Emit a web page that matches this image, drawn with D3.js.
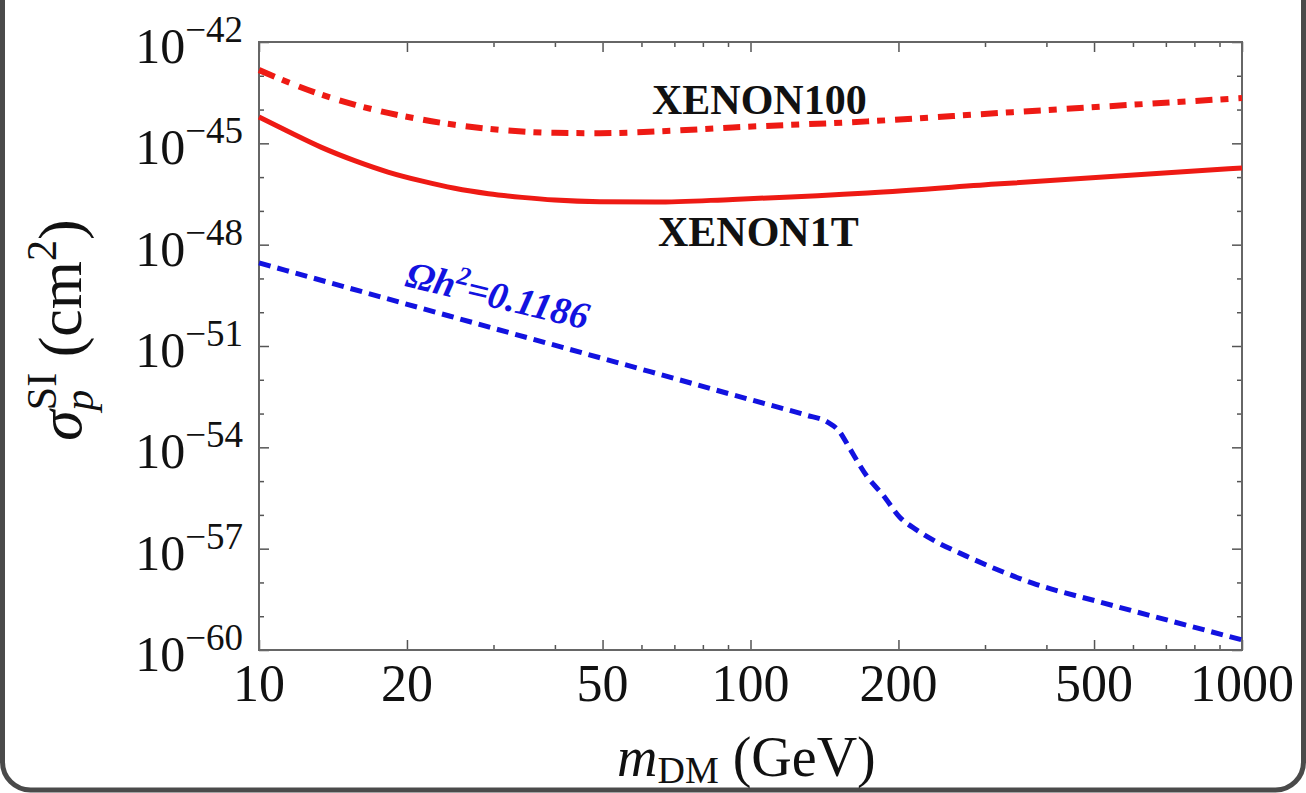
<!DOCTYPE html>
<html>
<head>
<meta charset="utf-8">
<script src="https://cdn.jsdelivr.net/npm/d3@7"></script>
<style>
  html, body { margin: 0; padding: 0; background: #fff; }
  svg { display: block; }
  .tick line { stroke: #555; stroke-width: 1.5; }
  .domain { display: none; }
</style>
</head>
<body>
<div id="chart"></div>
<script>
// dark-matter mass, GeV (x) and log10 of the SI cross-section (cm^2)
const xenon100Mass = [10, 11.5, 13.4, 15.7, 18.3, 21.5, 25, 29.3, 34.3, 40, 49.4, 64, 92, 173, 322, 1000];
const xenon100Log  = [-42.83, -43.20, -43.56, -43.86, -44.10, -44.30, -44.45, -44.57, -44.65, -44.69, -44.70, -44.65, -44.53, -44.35, -44.10, -43.66];

const xenon1tMass = [10, 11.5, 13.4, 15.7, 18.3, 21.5, 25, 29.3, 34.3, 40, 49.4, 64, 92, 173, 322, 1000];
const xenon1tLog  = [-44.22, -44.66, -45.12, -45.52, -45.85, -46.12, -46.33, -46.49, -46.60, -46.68, -46.73, -46.74, -46.66, -46.47, -46.20, -45.73];

const relicMass = [10, 24.5, 62.5, 100, 130, 143, 152, 159, 173, 186, 201, 218, 235, 275, 375, 514, 703, 1000];
const relicLog  = [-48.54, -50.12, -51.76, -52.59, -53.05, -53.24, -53.55, -54.02, -54.88, -55.41, -56.06, -56.45, -56.74, -57.22, -58.02, -58.58, -59.11, -59.70];

const xMajorTicks = [10, 20, 50, 100, 200, 500, 1000];
const xMinorTicks = [30, 40, 60, 70, 80, 90, 300, 400, 600, 700, 800, 900];
const yMajorExps = [-60, -57, -54, -51, -48, -45, -42];
const yMinorExps = [-59, -58, -56, -55, -53, -52, -50, -49, -47, -46, -44, -43];

const W = 1306, H = 793;
const plotL = 259, plotR = 1242, plotT = 42, plotB = 650;

const svg = d3.select('#chart').append('svg')
  .attr('width', W).attr('height', H);

// outer rounded border of the screenshot
svg.append('rect')
  .attr('x', 2.5).attr('y', -40)
  .attr('width', W - 5).attr('height', 830)
  .attr('rx', 28)
  .attr('fill', 'none')
  .attr('stroke', '#4a4a4a')
  .attr('stroke-width', 5);

const x = d3.scaleLog().domain([10, 1000]).range([plotL, plotR]);
const y = d3.scaleLog().domain([1e-60, 1e-42]).range([plotB, plotT]);

const pow10 = e => Math.pow(10, e);

// ticks, all drawn inward (Mathematica frame style)
function addAxis(axis, tx, ty) {
  svg.append('g').attr('transform', `translate(${tx},${ty})`).call(axis);
}
addAxis(d3.axisBottom(x).tickValues(xMajorTicks).tickSize(-10).tickFormat(''), 0, plotB);
addAxis(d3.axisBottom(x).tickValues(xMinorTicks).tickSize(-5).tickFormat(''), 0, plotB);
addAxis(d3.axisTop(x).tickValues(xMajorTicks).tickSize(-10).tickFormat(''), 0, plotT);
addAxis(d3.axisTop(x).tickValues(xMinorTicks).tickSize(-5).tickFormat(''), 0, plotT);
addAxis(d3.axisLeft(y).tickValues(yMajorExps.map(pow10)).tickSize(-10).tickFormat(''), plotL, 0);
addAxis(d3.axisLeft(y).tickValues(yMinorExps.map(pow10)).tickSize(-5).tickFormat(''), plotL, 0);
addAxis(d3.axisRight(y).tickValues(yMajorExps.map(pow10)).tickSize(-10).tickFormat(''), plotR, 0);
addAxis(d3.axisRight(y).tickValues(yMinorExps.map(pow10)).tickSize(-5).tickFormat(''), plotR, 0);

// frame
svg.append('rect')
  .attr('x', plotL).attr('y', plotT)
  .attr('width', plotR - plotL).attr('height', plotB - plotT)
  .attr('fill', 'none').attr('stroke', '#666').attr('stroke-width', 2);

const serif = '"Liberation Serif", "DejaVu Serif", serif';

// x tick labels
svg.append('g').selectAll('text')
  .data(xMajorTicks)
  .join('text')
  .attr('x', d => x(d))
  .attr('y', 701)
  .attr('text-anchor', 'middle')
  .attr('font-family', serif)
  .attr('font-size', 52)
  .attr('fill', '#111')
  .text(d => d);

// y tick labels: 10^-nn
const yl = svg.append('g').selectAll('text')
  .data(yMajorExps)
  .join('text')
  .attr('x', 243)
  .attr('y', d => y(pow10(d)) + 21)
  .attr('text-anchor', 'end')
  .attr('font-family', serif)
  .attr('fill', '#111');
yl.append('tspan').attr('font-size', 50).text('10');
yl.append('tspan').attr('font-size', 37).attr('dy', -21).text(d => '\u2212' + Math.abs(d));

// curves
const line = d3.line()
  .x(d => x(d[0]))
  .y(d => y(pow10(d[1])))
  .curve(d3.curveMonotoneX);

svg.append('path')
  .datum(d3.zip(xenon1tMass, xenon1tLog))
  .attr('d', line)
  .attr('fill', 'none')
  .attr('stroke', '#ee1a14')
  .attr('stroke-width', 5);

svg.append('path')
  .datum(d3.zip(xenon100Mass, xenon100Log))
  .attr('d', line)
  .attr('fill', 'none')
  .attr('stroke', '#ee1a14')
  .attr('stroke-width', 6)
  .attr('stroke-dasharray', '17,8,8,10');

svg.append('path')
  .datum(d3.zip(relicMass, relicLog))
  .attr('d', line)
  .attr('fill', 'none')
  .attr('stroke', '#1212e0')
  .attr('stroke-width', 5)
  .attr('stroke-dasharray', '12,7');

// curve labels
svg.append('text')
  .attr('x', 652).attr('y', 114)
  .attr('font-family', serif).attr('font-weight', 'bold')
  .attr('font-size', 42).attr('fill', '#111')
  .text('XENON100');

svg.append('text')
  .attr('x', 658).attr('y', 246)
  .attr('font-family', serif).attr('font-weight', 'bold')
  .attr('font-size', 42).attr('fill', '#111')
  .text('XENON1T');

const om = svg.append('text')
  .attr('transform', 'translate(404,286) rotate(13.5)')
  .attr('font-family', serif).attr('font-weight', 'bold').attr('font-style', 'italic')
  .attr('font-size', 38).attr('fill', '#1212e0');
om.append('tspan').text('\u03A9h');
om.append('tspan').attr('font-size', 26).attr('dy', -15).text('2');
om.append('tspan').attr('dy', 15).text('=0.1186');

// axis titles
const xt = svg.append('text')
  .attr('x', 617).attr('y', 776)
  .attr('font-family', serif).attr('font-size', 56).attr('fill', '#111');
xt.append('tspan').attr('font-style', 'italic').text('m');
xt.append('tspan').attr('font-size', 38).attr('dy', 7).text('DM');
xt.append('tspan').attr('dy', -7).text(' (GeV)');

const yt = svg.append('text')
  .attr('transform', 'translate(81,330) rotate(-90)')
  .attr('text-anchor', 'middle')
  .attr('font-family', serif).attr('font-size', 62).attr('fill', '#111');
yt.append('tspan').attr('font-style', 'italic').text('\u03C3');
yt.append('tspan').attr('font-size', 42).attr('dy', -25).text('SI');
yt.append('tspan').attr('font-size', 42).attr('font-style', 'italic').attr('dx', -38).attr('dy', 37).text('p');
yt.append('tspan').attr('dx', 17).attr('dy', -12).text(' (cm');
yt.append('tspan').attr('font-size', 42).attr('dy', -25).text('2');
yt.append('tspan').attr('dy', 25).text(')');
</script>
</body>
</html>
